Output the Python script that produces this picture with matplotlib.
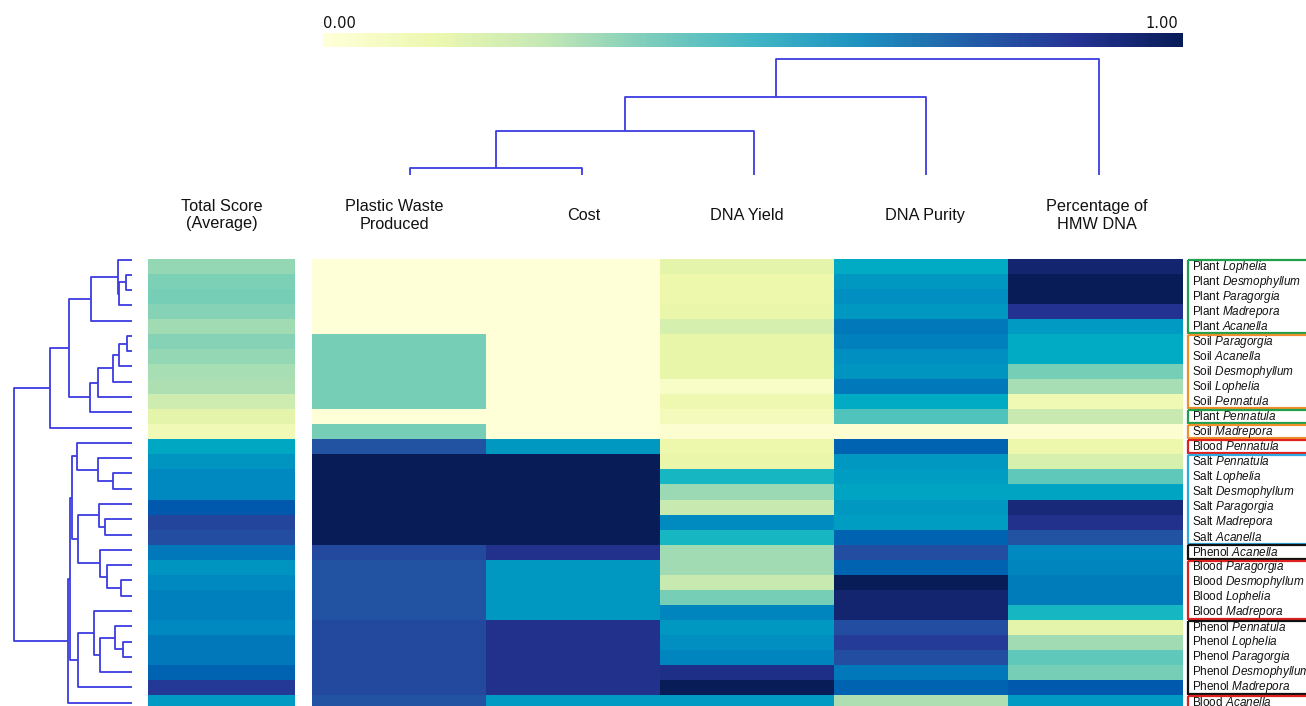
import numpy as np
import matplotlib
matplotlib.use('Agg')
import matplotlib.pyplot as plt
from matplotlib.patches import Rectangle
from matplotlib.cm import ScalarMappable
from matplotlib.colors import Normalize, ListedColormap, rgb_to_hsv, hsv_to_rgb

plt.rcParams['font.family'] = ['Liberation Sans', 'DejaVu Sans']
plt.rcParams['mathtext.fontset'] = 'custom'
plt.rcParams['mathtext.rm'] = 'Liberation Sans'
plt.rcParams['mathtext.it'] = 'Liberation Sans:italic'

# rows (clustered order)
groups = ['Plant', 'Plant', 'Plant', 'Plant', 'Plant',
          'Soil', 'Soil', 'Soil', 'Soil', 'Soil',
          'Plant', 'Soil', 'Blood',
          'Salt', 'Salt', 'Salt', 'Salt', 'Salt', 'Salt',
          'Phenol', 'Blood', 'Blood', 'Blood', 'Blood',
          'Phenol', 'Phenol', 'Phenol', 'Phenol', 'Phenol', 'Blood']
species = ['Lophelia', 'Desmophyllum', 'Paragorgia', 'Madrepora', 'Acanella',
           'Paragorgia', 'Acanella', 'Desmophyllum', 'Lophelia', 'Pennatula',
           'Pennatula', 'Madrepora', 'Pennatula',
           'Pennatula', 'Lophelia', 'Desmophyllum', 'Paragorgia', 'Madrepora', 'Acanella',
           'Acanella', 'Paragorgia', 'Desmophyllum', 'Lophelia', 'Madrepora',
           'Pennatula', 'Lophelia', 'Paragorgia', 'Desmophyllum', 'Madrepora', 'Acanella']

columns = ['Plastic Waste\nProduced', 'Cost', 'DNA Yield', 'DNA Purity', 'Percentage of\nHMW DNA']

total_score = [0.33, 0.36, 0.37, 0.35, 0.31, 0.35, 0.33, 0.30, 0.29, 0.22,
               0.15, 0.09, 0.52, 0.58, 0.62, 0.62, 0.72, 0.82, 0.80, 0.66,
               0.58, 0.62, 0.64, 0.64, 0.62, 0.66, 0.66, 0.70, 0.86, 0.56]
plastic_waste = [0.0, 0.0, 0.0, 0.0, 0.0, 0.37, 0.37, 0.37, 0.37, 0.37,
                 0.0, 0.37, 0.78, 1.0, 1.0, 1.0, 1.0, 1.0, 1.0, 0.81,
                 0.78, 0.78, 0.78, 0.78, 0.81, 0.81, 0.81, 0.81, 0.81, 0.78]
cost = [0.0, 0.0, 0.0, 0.0, 0.0, 0.0, 0.0, 0.0, 0.0, 0.0,
        0.0, 0.0, 0.57, 1.0, 1.0, 1.0, 1.0, 1.0, 1.0, 0.89,
        0.57, 0.57, 0.57, 0.57, 0.89, 0.89, 0.89, 0.89, 0.89, 0.56]
dna_yield = [0.15, 0.12, 0.12, 0.13, 0.20, 0.14, 0.14, 0.14, 0.05, 0.11,
             0.08, 0.02, 0.12, 0.13, 0.48, 0.32, 0.24, 0.61, 0.48, 0.31,
             0.31, 0.24, 0.37, 0.63, 0.57, 0.60, 0.63, 0.90, 1.0, 0.56]
dna_purity = [0.51, 0.57, 0.60, 0.57, 0.66, 0.64, 0.60, 0.58, 0.66, 0.51,
              0.42, 0.02, 0.70, 0.57, 0.55, 0.53, 0.57, 0.55, 0.70, 0.80,
              0.70, 1.0, 0.95, 0.95, 0.80, 0.85, 0.80, 0.66, 0.70, 0.29]
hmw_dna = [0.95, 1.0, 1.0, 0.88, 0.56, 0.51, 0.51, 0.37, 0.30, 0.10,
           0.24, 0.02, 0.12, 0.19, 0.40, 0.53, 0.93, 0.89, 0.78, 0.62,
           0.63, 0.65, 0.65, 0.48, 0.15, 0.31, 0.40, 0.37, 0.72, 0.56]

# row linkage: (left, right, height) ; leaves 0..29, new clusters from 30
row_merges = [(1, 2, 0.048), (30, 3, 0.105), (0, 31, 0.113), (32, 4, 0.348),
              (5, 6, 0.042), (34, 7, 0.105), (35, 8, 0.161), (36, 9, 0.289),
              (37, 10, 0.354), (33, 38, 0.530), (39, 11, 0.694),
              (14, 15, 0.156), (13, 41, 0.289), (12, 42, 0.467),
              (17, 18, 0.227), (16, 44, 0.275), (21, 22, 0.093), (20, 46, 0.207),
              (19, 47, 0.269), (45, 48, 0.459), (43, 49, 0.510),
              (25, 26, 0.076), (24, 51, 0.142), (52, 27, 0.269), (23, 53, 0.317),
              (54, 28, 0.459), (50, 55, 0.524), (56, 29, 0.538), (40, 57, 1.0)]
# column linkage
col_merges = [(0, 1, 0.064), (5, 2, 0.378), (6, 3, 0.671), (7, 4, 1.0)]

group_colors = {'Plant': '#1fa04c', 'Soil': '#ef8f2c', 'Blood': '#e0201f',
                'Salt': '#2fa9e1', 'Phenol': '#111111'}
line_color = '#3c3ce2'
cmap = plt.get_cmap('YlGnBu')

# punchier YlGnBu for the cells: boost saturation of the cyan/teal part only
hsv = rgb_to_hsv(cmap(np.linspace(0, 1, 256))[:, :3])
w = np.clip((0.6 - hsv[:, 0]) / 0.06, 0, 1)
hsv[:, 1] = np.clip(hsv[:, 1] + w * 1.2 * hsv[:, 1] ** 3, 0, 1)
cell_cmap = ListedColormap(hsv_to_rgb(hsv))

W, H = 1306, 706
fig = plt.figure(figsize=(W / 100, H / 100), dpi=100)


def px_axes(x0, y0, x1, y1):
    ax = fig.add_axes([x0 / W, 1 - y1 / H, (x1 - x0) / W, (y1 - y0) / H])
    ax.axis('off')
    return ax


def draw_dendro(ax, merges, n, vertical):
    pos = {i: float(i) for i in range(n)}
    hgt = {i: 0.0 for i in range(n)}
    for k, (a, b, h) in enumerate(merges):
        p = [pos[a], pos[a], pos[b], pos[b]]
        q = [hgt[a], h, h, hgt[b]]
        if vertical:
            ax.plot(q, p, color=line_color, lw=1.3, clip_on=False, solid_capstyle='butt')
        else:
            ax.plot(p, q, color=line_color, lw=1.3, clip_on=False, solid_capstyle='butt')
        pos[n + k] = (pos[a] + pos[b]) / 2
        hgt[n + k] = h


n_rows = len(species)
row_h = 15.03
top = 259
bot = top + n_rows * row_h

# total score column
ax_tot = px_axes(148, top, 295, bot)
ax_tot.imshow(np.array(total_score)[:, None], cmap=cell_cmap, vmin=0, vmax=1,
              aspect='auto', interpolation='nearest', extent=(0, 1, n_rows, 0))

# main heatmap
data = np.column_stack([plastic_waste, cost, dna_yield, dna_purity, hmw_dna])
ax_hm = px_axes(312, top, 1183, bot)
ax_hm.imshow(data, cmap=cell_cmap, vmin=0, vmax=1, aspect='auto',
             interpolation='nearest', extent=(0, 5, n_rows, 0))

# row dendrogram
s = 15.28
ax_rd = px_axes(14, 259.5 - s / 2, 131.7, 259.5 - s / 2 + n_rows * s)
draw_dendro(ax_rd, row_merges, n_rows, vertical=True)
ax_rd.set_xlim(1.0, 0.0)
ax_rd.set_ylim(n_rows - 0.5, -0.5)

# column dendrogram
ax_cd = px_axes(410, 58.7, 1098.6, 175)
draw_dendro(ax_cd, col_merges, len(columns), vertical=False)
ax_cd.set_xlim(0, 4)
ax_cd.set_ylim(0, 1)

# column labels
fig.text(221.5 / W, 1 - 215 / H, 'Total Score\n(Average)', ha='center', va='center',
         fontsize=11.7, linespacing=1.2, color='#111111')
for cx, lab in zip([394, 584, 746.5, 925, 1097], columns):
    fig.text(cx / W, 1 - 215.5 / H, lab, ha='center', va='center',
             fontsize=11.7, linespacing=1.2, color='#111111')

# row labels with group boxes (the panel runs past the right edge)
ax_lab = px_axes(1187, top, 1340, bot)
ax_lab.set_xlim(0, 1)
ax_lab.set_ylim(n_rows, 0)
for i, (g, sp) in enumerate(zip(groups, species)):
    ax_lab.text(0.035, i + 0.5, g + ' $\\mathit{' + sp + '}$', ha='left', va='center',
                fontsize=8.5, color='#111111', clip_on=False)
start = 0
for i in range(1, n_rows + 1):
    if i == n_rows or groups[i] != groups[start]:
        ax_lab.add_patch(Rectangle((0.008, start + 0.06), 1.2, i - start - 0.12,
                                   fill=False, ec=group_colors[groups[start]],
                                   lw=1.6, clip_on=False))
        start = i

# colour bar
cax = fig.add_axes([323 / W, 1 - 47 / H, (1183 - 323) / W, 14 / H])
cb = fig.colorbar(ScalarMappable(norm=Normalize(0, 1), cmap=cmap), cax=cax,
                  orientation='horizontal')
cb.set_ticks([])
cb.outline.set_visible(False)
fig.text(323 / W, 1 - 23 / H, '0.00', ha='left', va='center', fontsize=10.5,
         family='DejaVu Sans', color='#111111')
fig.text(1178 / W, 1 - 23 / H, '1.00', ha='right', va='center', fontsize=10.5,
         family='DejaVu Sans', color='#111111')

fig.savefig('out.png', dpi=100)
